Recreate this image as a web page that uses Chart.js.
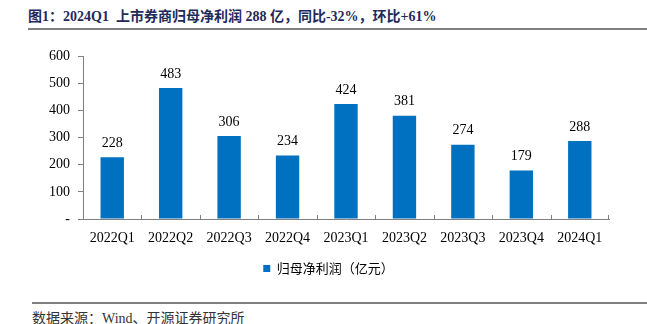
<!DOCTYPE html>
<html>
<head>
<meta charset="utf-8">
<script src="https://cdn.jsdelivr.net/npm/chart.js@4"></script>
<style>
  body { margin: 0; width: 647px; height: 324px; background: #fff; position: relative; overflow: hidden; }
  .title { position: absolute; left: 28px; top: 5px; font: bold 14px "Liberation Serif", "Noto Sans CJK SC", serif; color: #1f2a5a; white-space: nowrap; }
  .rule { position: absolute; left: 28px; right: 0; height: 2px; background: #7f7f7f; }
  .src { position: absolute; left: 32px; top: 307px; font: 14px "Liberation Serif", "Noto Sans CJK SC", serif; color: #333; white-space: nowrap; }
  #wrap { position: absolute; left: 0; top: 40px; width: 647px; height: 245px; }
</style>
</head>
<body>
<div class="title">图1：2024Q1&nbsp; 上市券商归母净利润 288 亿，同比-32%，环比+61%</div>
<div class="rule" style="top:28px"></div>
<div id="wrap"><canvas id="grafico"></canvas></div>
<div class="rule" style="top:302px; left:32px"></div>
<div class="src">数据来源：Wind、开源证券研究所</div>
<script>
const trimestres = ["2022Q1", "2022Q2", "2022Q3", "2022Q4", "2023Q1", "2023Q2", "2023Q3", "2023Q4", "2024Q1"];
const beneficio = [228, 483, 306, 234, 424, 381, 274, 179, 288];
const ticksY = [0, 100, 200, 300, 400, 500, 600];

const serif = "'Liberation Serif', 'Times New Roman', serif";

// etiquetas encima de cada barra
const etiquetas = {
  id: "etiquetas",
  afterDatasetsDraw(chart) {
    const ctx = chart.ctx;
    const meta = chart.getDatasetMeta(0);
    ctx.save();
    ctx.font = "14px " + serif;
    ctx.fillStyle = "#000";
    ctx.textAlign = "center";
    ctx.textBaseline = "bottom";
    meta.data.forEach((bar, i) => {
      ctx.fillText(beneficio[i], bar.x, bar.y - 7);
    });
    ctx.restore();
  }
};

// marcas del eje x hacia arriba, entre categorias
const marcasX = {
  id: "marcasX",
  afterDraw(chart) {
    const x = chart.scales.x;
    const ctx = chart.ctx;
    ctx.save();
    ctx.strokeStyle = "#7f7f7f";
    ctx.lineWidth = 1;
    for (let i = 0; i < trimestres.length; i++) {
      const px = Math.round((x.getPixelForValue(i) + x.getPixelForValue(i + 1)) / 2) + 0.5;
      const edge = i === trimestres.length - 1 ? Math.round(x.right) - 0.5 : px;
      ctx.beginPath();
      ctx.moveTo(edge, x.top);
      ctx.lineTo(edge, x.top - 4);
      ctx.stroke();
    }
    ctx.restore();
  }
};

// la leyenda va algo a la derecha del centro
const moverLeyenda = {
  id: "moverLeyenda",
  afterLayout(chart) {
    chart.legend.left += 24;
    chart.legend.right += 24;
  }
};

new Chart(document.getElementById("grafico").getContext("2d"), {
  type: "bar",
  data: {
    labels: trimestres,
    datasets: [{
      label: "归母净利润（亿元）",
      data: beneficio,
      backgroundColor: "#0070c0",
      categoryPercentage: 1,
      barPercentage: 0.4
    }]
  },
  options: {
    responsive: true,
    maintainAspectRatio: false,
    animation: false,
    layout: { padding: { top: 16, right: 38, left: 0, bottom: 0 } },
    plugins: {
      legend: {
        position: "bottom",
        labels: {
          boxWidth: 7,
          boxHeight: 7,
          padding: 14,
          color: "#000",
          font: { family: "'Noto Sans CJK SC', sans-serif", size: 13 }
        }
      },
      tooltip: { enabled: false }
    },
    scales: {
      x: {
        grid: { display: false },
        border: { color: "#7f7f7f", width: 1 },
        ticks: { color: "#000", font: { family: serif, size: 14 }, padding: 3, maxRotation: 0 },
        afterFit: s => { s.height = 29; }
      },
      y: {
        min: 0,
        max: 600,
        afterBuildTicks: s => { s.ticks = ticksY.map(v => ({ value: v })); },
        grid: { drawOnChartArea: false, tickLength: 5, color: "#7f7f7f" },
        border: { color: "#7f7f7f", width: 1 },
        ticks: {
          color: "#000",
          font: { family: serif, size: 14 },
          padding: 8,
          callback: v => v === 0 ? "-" : v
        },
        afterFit: s => { s.width = 83; }
      }
    }
  },
  plugins: [etiquetas, marcasX, moverLeyenda]
});
</script>
</body>
</html>
